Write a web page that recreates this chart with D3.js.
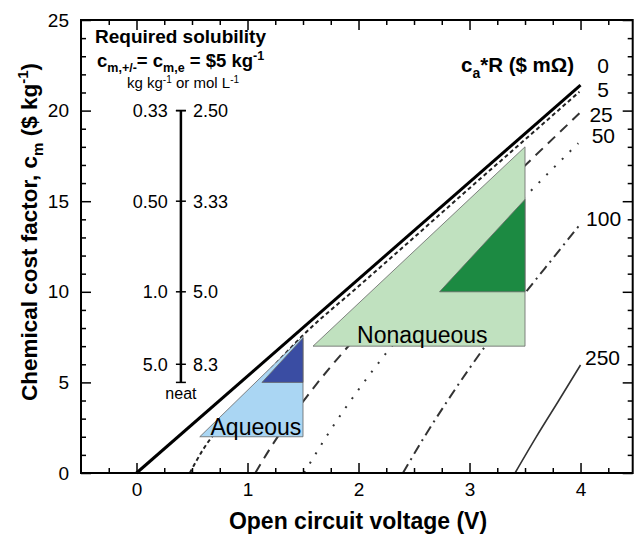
<!DOCTYPE html>
<html><head><meta charset="utf-8">
<script src="https://cdn.jsdelivr.net/npm/d3@7"></script>
<style>
body{margin:0;background:#fff;}
text{font-family:"Liberation Sans",Arial,sans-serif;}
</style></head>
<body><svg id="c" width="636" height="534"></svg>
<script>
// ---- data ----
const resistances = ["0","5","25","50","100","250"];
const curve0   = [[0,0],[4,21.4]];
const curve5   = [[0.48,0],[0.6,1.3],[0.8,2.9],[1.0,4.3],[1.25,6.0],[1.5,7.6],[2.0,10.3],[2.5,13.0],[3.0,15.72],[3.5,18.4],[3.99,21.04]];
const curve25  = [[1.07,0],[1.2,1.32],[1.5,3.94],[2.0,7.64],[2.5,10.92],[3.0,14.01],[3.5,16.97],[3.99,19.85]];
const curve50  = [[1.51,0],[1.75,2.39],[2.0,4.6],[2.5,8.5],[3.0,11.98],[3.5,15.24],[3.98,18.2]];
const curve100 = [[2.4,0],[2.6,2.06],[2.8,3.97],[3.0,5.78],[3.25,7.91],[3.5,9.92],[3.75,11.84],[4.0,13.75]];
const curve250 = [[3.41,0],[3.6,1.98],[3.8,3.96],[4.0,5.96]];
const curves = [curve0, curve5, curve25, curve50, curve100, curve250];
const labelValues = [22.49, 21.19, 19.81, 18.61, 14.07, 6.35];
const labelV = [4.15, 4.15, 4.08, 4.1, 4.05, 4.04];

const aqueousLight = [[0.57,2],[1.5,2],[1.5,7.55]];
const aqueousDark  = [[1.13,5],[1.5,5],[1.5,7.45]];
const nonaqLight   = [[1.59,7],[3.5,7],[3.5,18.0]];
const nonaqDark    = [[2.73,10],[3.5,10],[3.5,15.1]];

const solubilityCm = [20, 15, 10, 6];
const solubilityLeft = ["0.33","0.50","1.0","5.0"];
const solubilityRight = ["2.50","3.33","5.0","8.3"];
const solubilityBarRange = [5, 20];
const solubilityBarV = 0.4;

const xTicks = [0,1,2,3,4];
const yTicks = [0,5,10,15,20,25];

// ---- drawing ----
const svg = d3.select("#c");
const x = d3.scaleLinear().domain([-0.5, 4.47]).range([81, 632.7]);
const y = d3.scaleLinear().domain([0, 25]).range([473, 20]);

// curves
const styles = [
  {w:3, dash:null, c:"#000"},
  {w:2, dash:"4,3", c:"#222"},
  {w:2, dash:"10,7", c:"#333"},
  {w:2, dash:"2,9", c:"#333"},
  {w:2, dash:"10,5,2,5", c:"#333"},
  {w:1.6, dash:null, c:"#333"}
];
const line = d3.line().x(d=>x(d[0])).y(d=>y(d[1])).curve(d3.curveMonotoneX);
curves.forEach((cv,i)=>{
  const p = svg.append("path").attr("d", line(cv)).attr("fill","none")
    .attr("stroke", styles[i].c).attr("stroke-width", styles[i].w);
  if (styles[i].dash) p.attr("stroke-dasharray", styles[i].dash);
});
resistances.forEach((r,i)=>{
  svg.append("text").attr("x", x(labelV[i])).attr("y", y(labelValues[i])+7.5)
    .attr("font-size", 21).text(r);
});
// legend title
const lt = svg.append("text").attr("x", 461).attr("y", 72).attr("font-size", 20.5).attr("font-weight","bold");
lt.append("tspan").text("c");
lt.append("tspan").attr("dy", 6).attr("font-size", 14).text("a");
lt.append("tspan").attr("dy", -6).text("*R ($ mΩ)");

// triangles (drawn over the curves)
const tri = (pts, fill) => svg.append("path")
  .attr("d", d3.line().x(d=>x(d[0])).y(d=>y(d[1]))(pts) + "Z")
  .attr("fill", fill).attr("stroke", "#666").attr("stroke-width", 0.8);
tri(aqueousLight, "#aad6f3");
tri(aqueousDark, "#3a4da3");
tri(nonaqLight, "#c0e1bf");
tri(nonaqDark, "#1c8a42");

svg.append("text").attr("x", x(1.076)).attr("y", y(2.1)).attr("text-anchor","middle")
  .attr("font-size", 23).text("Aqueous");
svg.append("text").attr("x", x(2.575)).attr("y", y(7.15)).attr("text-anchor","middle")
  .attr("font-size", 23).text("Nonaqueous");

// axes
const majorX = d3.axisBottom(x).tickValues(xTicks).tickSize(-10).tickFormat(d3.format("d"));
const minorX = d3.range(-0.25, 4.47, 0.25).filter(v=>Math.abs(v-Math.round(v))>0.01);
const minorY = d3.range(1, 25, 1).filter(v=>v%5!==0);

const gb = svg.append("g").attr("transform", `translate(0,${y(0)})`).call(majorX);
gb.selectAll("text").attr("font-size", 19).attr("fill","#000").attr("dy", "1.05em");
gb.call(g=>g.select(".domain").remove());
gb.selectAll("line").attr("stroke-width",1.5);
svg.append("g").attr("transform", `translate(0,${y(0)})`)
  .call(d3.axisBottom(x).tickValues(minorX).tickSize(-5).tickFormat(""))
  .call(g=>g.select(".domain").remove()).selectAll("line").attr("stroke-width",1.5);
svg.append("g").attr("transform", `translate(0,${y(25)})`)
  .call(d3.axisTop(x).tickValues(xTicks).tickSize(-10).tickFormat(""))
  .call(g=>g.select(".domain").remove()).selectAll("line").attr("stroke-width",1.5);
svg.append("g").attr("transform", `translate(0,${y(25)})`)
  .call(d3.axisTop(x).tickValues(minorX).tickSize(-5).tickFormat(""))
  .call(g=>g.select(".domain").remove()).selectAll("line").attr("stroke-width",1.5);

const gl = svg.append("g").attr("transform", `translate(${x(-0.5)},0)`)
  .call(d3.axisLeft(y).tickValues(yTicks).tickSize(-10).tickFormat(d3.format("d")));
gl.call(g=>g.select(".domain").remove());
gl.selectAll("text").attr("font-size", 19).attr("fill","#000").attr("x", -12);
gl.selectAll("line").attr("stroke-width",1.5);
svg.append("g").attr("transform", `translate(${x(-0.5)},0)`)
  .call(d3.axisLeft(y).tickValues(minorY).tickSize(-5).tickFormat(""))
  .call(g=>g.select(".domain").remove()).selectAll("line").attr("stroke-width",1.5);
svg.append("g").attr("transform", `translate(${x(4.47)},0)`)
  .call(d3.axisRight(y).tickValues(yTicks).tickSize(-10).tickFormat(""))
  .call(g=>g.select(".domain").remove()).selectAll("line").attr("stroke-width",1.5);
svg.append("g").attr("transform", `translate(${x(4.47)},0)`)
  .call(d3.axisRight(y).tickValues(minorY).tickSize(-5).tickFormat(""))
  .call(g=>g.select(".domain").remove()).selectAll("line").attr("stroke-width",1.5);

svg.append("rect").attr("x", x(-0.5)).attr("y", y(25))
  .attr("width", x(4.47)-x(-0.5)).attr("height", y(0)-y(25))
  .attr("fill","none").attr("stroke","#000").attr("stroke-width",2);

// axis titles
svg.append("text").attr("x", 358).attr("y", 529).attr("text-anchor","middle")
  .attr("font-size", 23).attr("font-weight","bold").text("Open circuit voltage (V)");
const yt = svg.append("text").attr("transform","translate(37,232) rotate(-90)")
  .attr("text-anchor","middle").attr("font-size", 22.5).attr("font-weight","bold");
yt.append("tspan").text("Chemical cost factor, c");
yt.append("tspan").attr("dy", 6).attr("font-size", 15).text("m");
yt.append("tspan").attr("dy", -6).text(" ($ kg");
yt.append("tspan").attr("dy", -9).attr("font-size", 15).text("-1");
yt.append("tspan").attr("dy", 9).text(")");

// solubility annotation
svg.append("text").attr("x", 95).attr("y", 43).attr("font-size", 19).attr("font-weight","bold")
  .text("Required solubility");
const a2 = svg.append("text").attr("x", 97).attr("y", 67).attr("font-size", 18.5).attr("font-weight","bold");
a2.append("tspan").text("c");
a2.append("tspan").attr("dy",5).attr("font-size",12.5).text("m,+/-");
a2.append("tspan").attr("dy",-5).text("= c");
a2.append("tspan").attr("dy",5).attr("font-size",12.5).text("m,e");
a2.append("tspan").attr("dy",-5).text(" = $5 kg");
a2.append("tspan").attr("dy",-7).attr("font-size",12.5).text("-1");
const a3 = svg.append("text").attr("x", 127).attr("y", 88).attr("font-size", 15);
a3.append("tspan").text("kg kg");
a3.append("tspan").attr("dy",-5).attr("font-size",10).text("-1");
a3.append("tspan").attr("dy",5).text(" or mol L");
a3.append("tspan").attr("dy",-5).attr("font-size",10).text("-1");

const bx = x(solubilityBarV);
svg.append("line").attr("x1", bx).attr("x2", bx)
  .attr("y1", y(solubilityBarRange[0])).attr("y2", y(solubilityBarRange[1]))
  .attr("stroke","#000").attr("stroke-width",2.5);
[solubilityBarRange[0], solubilityBarRange[1]].concat(solubilityCm).forEach(v=>{
  svg.append("line").attr("x1", bx-5).attr("x2", bx+5).attr("y1", y(v)).attr("y2", y(v))
    .attr("stroke","#000").attr("stroke-width",1.5);
});
solubilityCm.forEach((v,i)=>{
  svg.append("text").attr("x", bx-13).attr("y", y(v)+6.5).attr("text-anchor","end")
    .attr("font-size", 18).text(solubilityLeft[i]);
  svg.append("text").attr("x", bx+12).attr("y", y(v)+6.5)
    .attr("font-size", 18).text(solubilityRight[i]);
});
svg.append("text").attr("x", bx).attr("y", y(solubilityBarRange[0])+17).attr("text-anchor","middle")
  .attr("font-size", 16).text("neat");
</script></body></html>
